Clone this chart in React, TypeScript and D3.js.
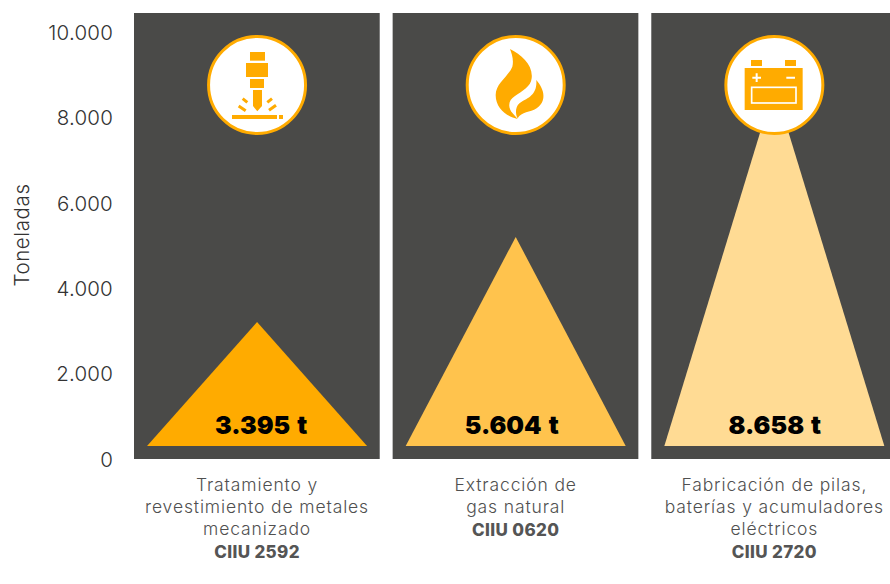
import React from "react";
import * as d3 from "d3";

const categories = ["c2592", "c0620", "c2720"];
const values = [3395, 5604, 8658];
const valueLabels = ["3.395 t", "5.604 t", "8.658 t"];
const labelLines = [
  ["Tratamiento y", "revestimiento de metales", "mecanizado"],
  ["Extracción de", "gas natural"],
  ["Fabricación de pilas,", "baterías y acumuladores", "eléctricos"],
];
const codes = ["CIIU 2592", "CIIU 0620", "CIIU 2720"];
const yTicks = [0, 2000, 4000, 6000, 8000, 10000];
const tickLabels = ["0", "2.000", "4.000", "6.000", "8.000", "10.000"];
const triangleFills = ["#FFAB00", "#FFC34D", "#FFDB94"];

const W = 890, H = 584;
const ORANGE = "#FFAB00";
const DARK = "#4A4A48";
const FONT = "Inter, 'Open Sans', sans-serif";
const labelNudge = [4, -4, 0.5];

const y = d3.scaleLinear().domain([0, 10000]).range([459.5, 32.5]);
const band = d3.scaleBand<string>().domain(categories).range([134, 897]).paddingInner(0.05).paddingOuter(0);
// the triangles stand on a base line inside the panel and rise non-uniformly
const apex = d3.scaleLinear().domain([0, 3395, 5604, 8658]).range([446, 322, 237, 86]);

function Laser() {
  return (
    <g transform="translate(190,20) scale(0.3333)" fill={ORANGE}>
      <rect x={180} y={96} width={45} height={26} />
      <rect x={168} y={129} width={66} height={42} />
      <rect x={180} y={177} width={42} height={27} />
      <path d="M189,210H216V258L202,274L189,258Z" />
      <rect x={126} y={285} width={135} height={12} />
      <rect x={267} y={285} width={12} height={12} />
      <g stroke={ORANGE} strokeWidth={9} fill="none">
        <path d="M158,236L172,247" />
        <path d="M146,258L167,272" />
        <path d="M246,236L232,247" />
        <path d="M258,256L237,271" />
      </g>
    </g>
  );
}
function Flame() {
  return (
    <g transform="translate(450,20) scale(0.3333)" fill={ORANGE}>
      <path d="M180,87C215,105 250,135 245,175C243,200 215,215 195,228C175,240 172,262 188,280L203,297C170,290 137,265 137,225C137,190 175,170 187,140C192,120 185,100 180,87Z" />
      <path d="M259,180C285,210 290,245 260,265C240,278 215,275 203,295C195,280 195,255 215,245C240,232 262,220 259,180Z" />
    </g>
  );
}
function Battery() {
  return (
    <g transform="translate(710,20) scale(0.3333)">
      <g fill={ORANGE}>
        <rect x={123} y={120} width={33} height={18} />
        <rect x={225} y={120} width={33} height={18} />
        <rect x={104} y={144} width={174} height={126} />
      </g>
      <rect x={125} y={202} width={133} height={47} fill={ORANGE} stroke="#fff" strokeWidth={5} />
      <path d="M127,173H153M140,160V186M229,173H255" stroke="#fff" strokeWidth={6} fill="none" />
    </g>
  );
}
const icons = [Laser, Flame, Battery];

export default function App() {
  return (
    <svg width={W} height={H} viewBox={`0 0 ${W} ${H}`} style={{ position: "absolute", left: 0, top: 0, fontFamily: FONT }}>
      <rect width={W} height={H} fill="#fff" />
      {yTicks.map((t, i) => (
        <text key={t} x={113} y={y(t)} dy="0.36em" textAnchor="end" fontSize={20.5} letterSpacing={0.2} fontWeight={300} fill="#333">{tickLabels[i]}</text>
      ))}
      <text transform="translate(22,235) rotate(-90)" textAnchor="middle" dy="0.36em" fontSize={20.5} letterSpacing={0.6} fontWeight={300} fill="#333">Toneladas</text>
      {categories.map((c, i) => {
        const x0 = band(c)!;
        const bw = band.bandwidth();
        const cx = x0 + bw / 2 + 0.2;
        const Icon = icons[i];
        const tri = d3.line()([[cx - 110, apex(0)], [cx, apex(values[i])], [cx + 110, apex(0)]]) + "Z";
        return (
          <g key={c}>
            <rect x={x0} y={13} width={bw} height={446} fill={DARK} />
            <path d={tri} fill={triangleFills[i]} />
            <text x={cx + labelNudge[i]} y={434} textAnchor="middle" fontSize={25} fontWeight={900} wordSpacing={2} fill="#000">{valueLabels[i]}</text>
            <circle cx={cx} cy={85} r={48.5} fill="#fff" stroke={ORANGE} strokeWidth={3} />
            <Icon />
            <text textAnchor="middle" fontSize={17.5} letterSpacing={0.87} fontWeight={300} fill="#505050">
              {labelLines[i].map((l, j) => (
                <tspan key={j} x={cx} y={491 + j * 22}>{l}</tspan>
              ))}
              <tspan x={cx} y={491 + labelLines[i].length * 22.3} fontSize={17} letterSpacing={0.35} fontWeight={800} fill="#555">{codes[i]}</tspan>
            </text>
          </g>
        );
      })}
    </svg>
  );
}
